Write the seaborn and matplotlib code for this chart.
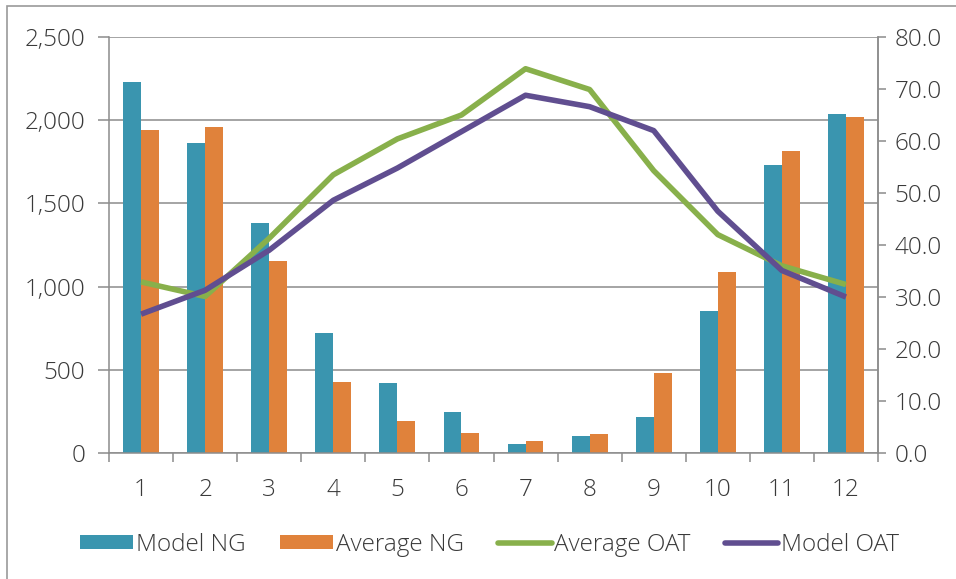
import numpy as np
import pandas as pd
import matplotlib
matplotlib.use("Agg")
import matplotlib.pyplot as plt
import seaborn as sns
from matplotlib.patches import Patch, Rectangle
from matplotlib.lines import Line2D
from matplotlib.ticker import FuncFormatter, FixedLocator

months = ["1", "2", "3", "4", "5", "6", "7", "8", "9", "10", "11", "12"]
model_ng = [2232, 1865, 1384, 719, 421, 248, 54, 102, 218, 855, 1733, 2039]
average_ng = [1943, 1961, 1154, 429, 190, 122, 74, 112, 479, 1088, 1817, 2021]
average_oat = [32.9, 30.1, 41.3, 53.5, 60.4, 65.0, 73.9, 69.9, 54.3, 42.0, 36.0, 32.4]
model_oat = [26.7, 31.3, 39.0, 48.6, 54.8, 61.8, 68.8, 66.6, 62.0, 46.5, 35.1, 30.0]

series_bars = ["Model NG", "Average NG"]
series_lines = ["Average OAT", "Model OAT"]
c_teal = "#3A95AF"
c_orange = "#E0823B"
c_green = "#88B04B"
c_purple = "#604E90"

bars_df = pd.DataFrame({
    "month": months * 2,
    "value": model_ng + average_ng,
    "series": [series_bars[0]] * 12 + [series_bars[1]] * 12,
})
lines_df = pd.DataFrame({
    "month": months * 2,
    "temp": average_oat + model_oat,
    "series": [series_lines[0]] * 12 + [series_lines[1]] * 12,
})

sns.set_theme(style="white")
plt.rcParams["font.family"] = ["Open Sans", "DejaVu Sans"]
plt.rcParams["font.weight"] = "light"
text_color = "#3a3a3a"
grid_color = "#8c8c8c"
fs = 17.5

fig = plt.figure(figsize=(9.56, 5.79), dpi=100)
ax = fig.add_axes([109/956, 1-453/579, (878-109)/956, (453-37)/579])

# outer frame (left and top visible)
fig.patches.append(Rectangle((7/956, -0.05), 1.2, 1 - 6/579 + 0.05, transform=fig.transFigure,
                             fill=False, edgecolor="#9a9a9a", linewidth=1.2))

sns.barplot(data=bars_df, x="month", y="value", hue="series",
            palette=[c_teal, c_orange], width=0.56, ax=ax,
            saturation=1, legend=False, order=months)
for p in ax.patches:
    p.set_edgecolor("none")
    p.set_linewidth(0)

ax.set_ylim(0, 2500)
ax.set_xlim(-0.5, 11.5)
ax.yaxis.set_major_locator(FixedLocator([0, 500, 1000, 1500, 2000, 2500]))
ax.yaxis.set_major_formatter(FuncFormatter(lambda v, p: f"{int(v):,}"))
ax.grid(axis="y", color=grid_color, linewidth=1.1)
ax.set_axisbelow(True)
ax.set_xlabel("")
ax.set_ylabel("")
ax.spines["top"].set_visible(False)
for s in ["left", "right", "bottom"]:
    ax.spines[s].set_color(grid_color)
    ax.spines[s].set_linewidth(1.1)

ax.tick_params(axis="y", which="major", length=8, width=1.1, color=grid_color,
               labelsize=fs, labelcolor=text_color, pad=9, left=True)
ax.xaxis.set_minor_locator(FixedLocator(np.arange(-0.5, 12.0, 1.0)))
ax.tick_params(axis="x", which="major", length=0, labelsize=fs, labelcolor=text_color, pad=18)
ax.tick_params(axis="x", which="minor", length=6.5, width=1.1, color=grid_color, bottom=True)

ax2 = ax.twinx()
sns.pointplot(data=lines_df, x="month", y="temp", hue="series",
              palette=[c_green, c_purple], order=months, ax=ax2,
              markers="", linestyles="-", errorbar=None, legend=False,
              linewidth=4.0)
ax2.set_ylim(0, 80)
ax2.set_xlim(-0.5, 11.5)
ax2.yaxis.set_major_locator(FixedLocator(np.arange(0, 81, 10)))
ax2.yaxis.set_major_formatter(FuncFormatter(lambda v, p: f"{v:.1f}"))
ax2.set_ylabel("")
ax2.set_xlabel("")
ax2.grid(False)
for s in ["top", "left", "bottom"]:
    ax2.spines[s].set_visible(False)
ax2.spines["right"].set_color(grid_color)
ax2.spines["right"].set_linewidth(1.1)
ax2.tick_params(axis="y", length=6, width=1.1, color=grid_color, labelsize=fs,
                labelcolor=text_color, pad=6, right=True)
for l in ax2.lines:
    l.set_solid_capstyle("butt")
    l.set_solid_joinstyle("round")

handles = [
    Patch(facecolor=c_teal, edgecolor="none"),
    Patch(facecolor=c_orange, edgecolor="none"),
    Line2D([0], [0], color=c_green, linewidth=4.0),
    Line2D([0], [0], color=c_purple, linewidth=4.0),
]
labels = series_bars + series_lines
fig.legend(handles, labels, loc="center", bbox_to_anchor=(0.512, 1 - 545/579), ncol=4,
           frameon=False, fontsize=fs, labelcolor=text_color, handlelength=2.2,
           handleheight=0.5, handletextpad=0.12, columnspacing=1.4)

fig.savefig("out.png", dpi=100)
